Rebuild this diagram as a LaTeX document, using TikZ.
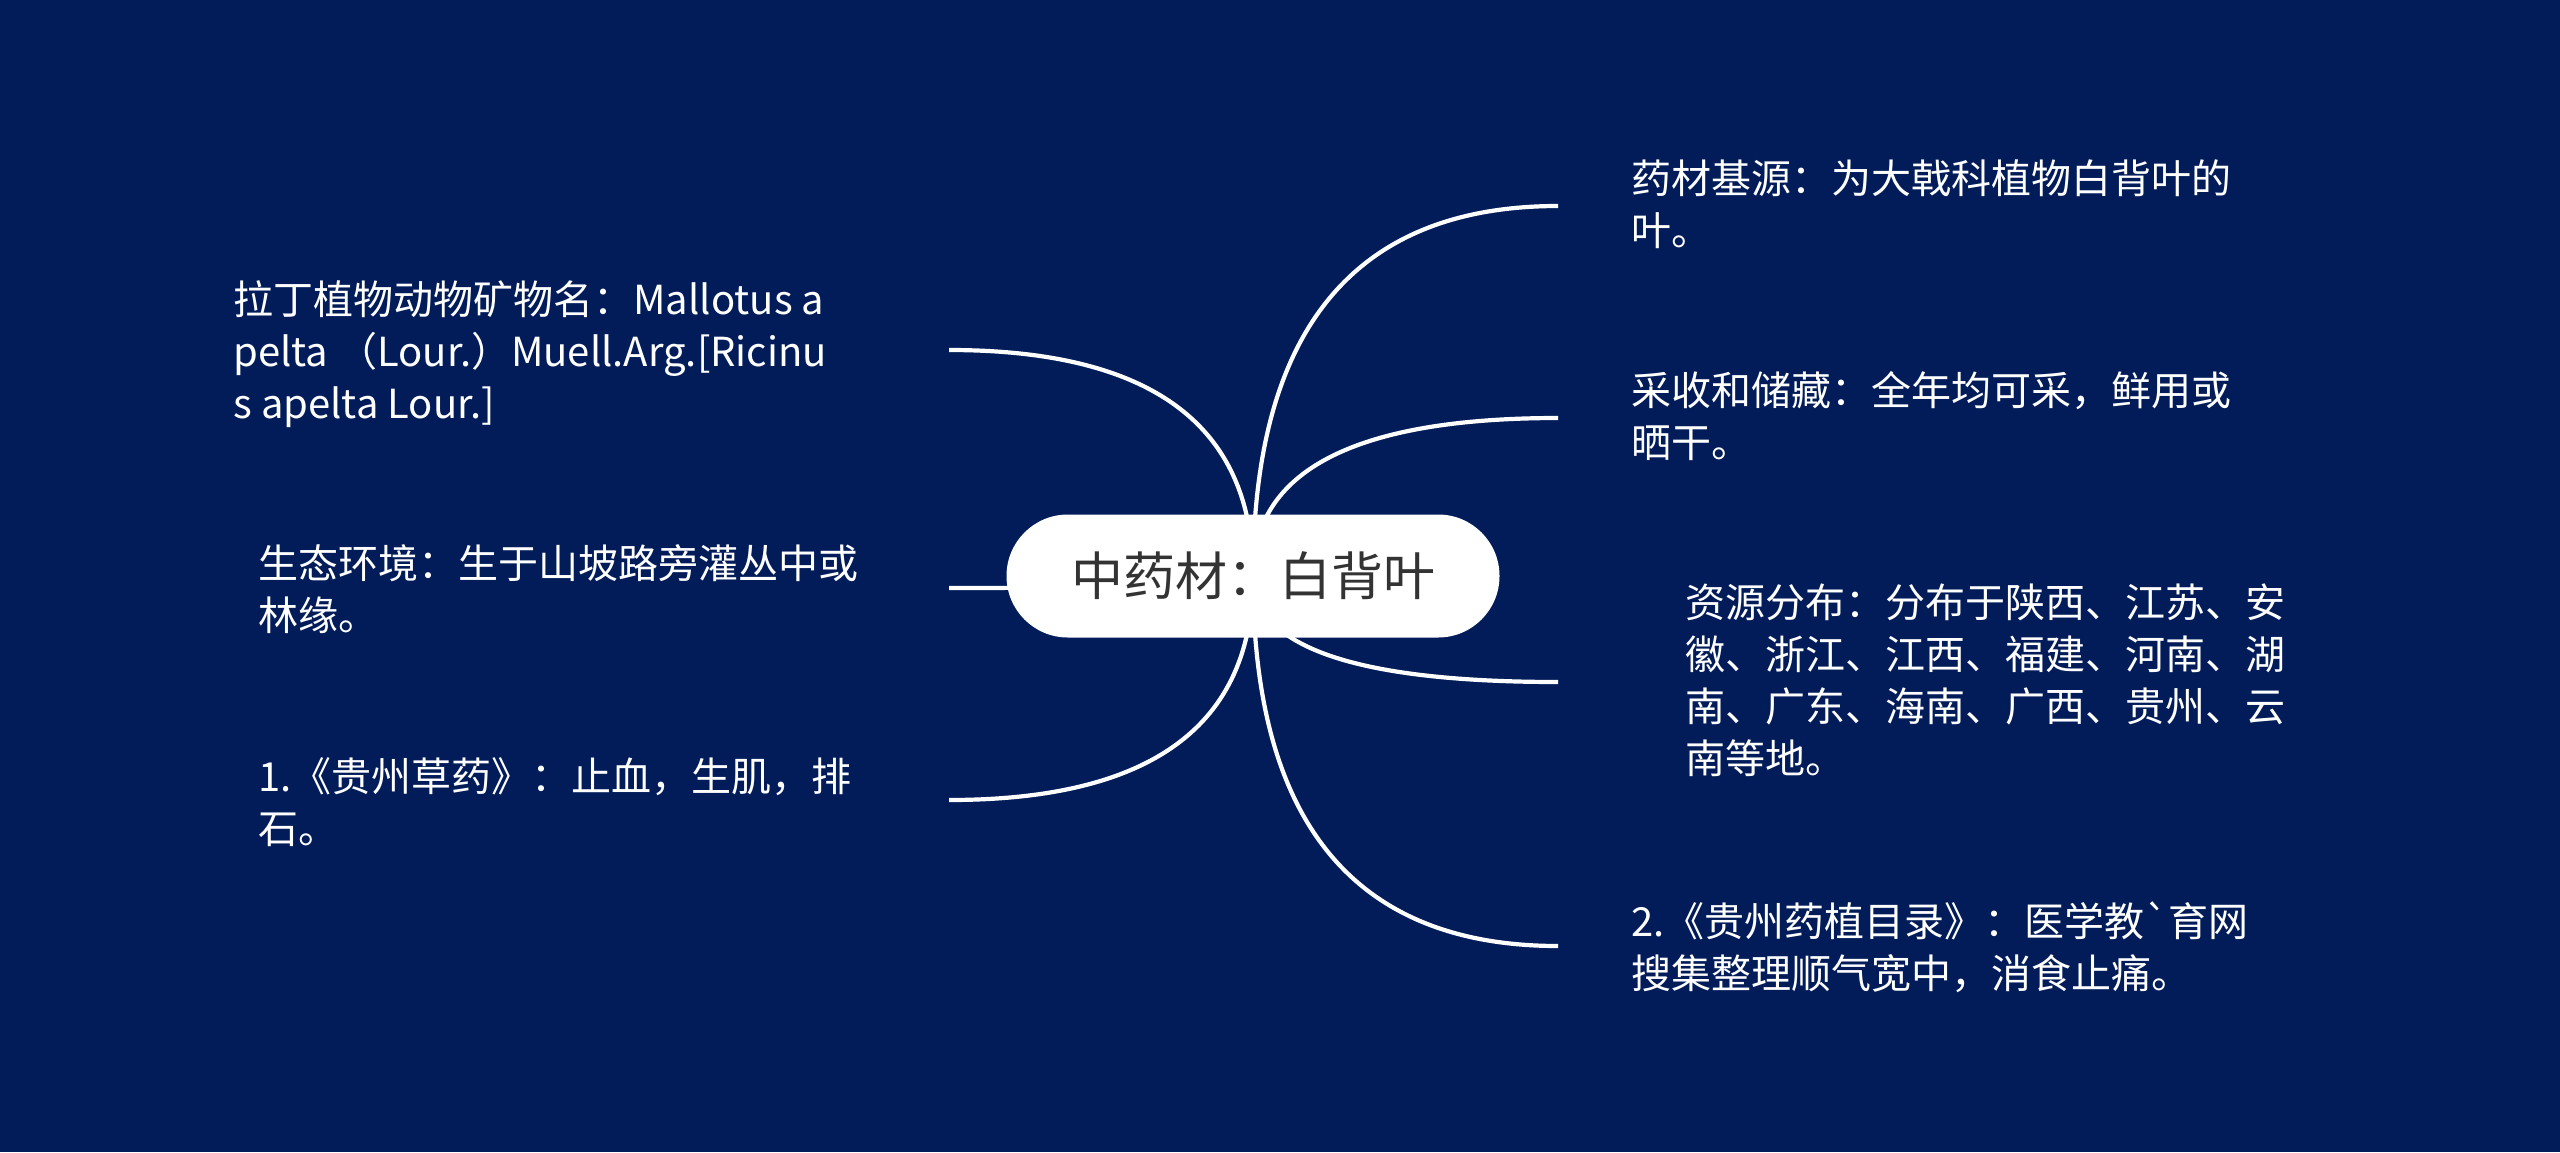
\documentclass[tikz,border=0pt]{standalone}
\usepackage{fontspec}
\newfontfamily\cjk{Noto Sans CJK SC}
\usetikzlibrary{calc,backgrounds}
\definecolor{bgnavy}{RGB}{2,28,90}
\definecolor{roottext}{RGB}{51,51,51}
\begin{document}
\begin{tikzpicture}[x=0.5pt,y=-0.5pt,
  conn/.style={draw=white,line width=2.1pt},
  leaf/.style={font=\cjk\fontsize{20}{26}\selectfont, text=white, align=left, inner sep=0pt, anchor=north west},
  rootnode/.style={rectangle, rounded corners=30.7pt, fill=white, minimum width=246.5pt, minimum height=61.5pt, inner sep=0pt, font=\cjk\fontsize{26}{32}\selectfont, text=roottext}]
\useasboundingbox (0,0) rectangle (2560,1152);
\node[rootnode] (root) at (1253,576) {中药材：白背叶};
% right branches
\node[leaf] (r1) at (1631,157) {\strut 药材基源：为大戟科植物白背叶的\\叶。};
\node[leaf] (r2) at (1631,369) {\strut 采收和储藏：全年均可采，鲜用或\\晒干。};
\node[leaf] (r3) at (1685,581) {\strut 资源分布：分布于陕西、江苏、安\\徽、浙江、江西、福建、河南、湖\\南、广东、海南、广西、贵州、云\\南等地。};
\node[leaf] (r4) at (1631,900) {\strut 2.《贵州药植目录》：医学教`育网\\搜集整理顺气宽中，消食止痛。};
% left branches
\node[leaf] (l1) at (233,278) {\strut 拉丁植物动物矿物名：Mallotus a\\pelta （Lour.）Muell.Arg.[Ricinu\\s apelta Lour.]};
\node[leaf] (l2) at (258,542) {\strut 生态环境：生于山坡路旁灌丛中或\\林缘。};
\node[leaf] (l3) at (258,755) {\strut 1.《贵州草药》：止血，生肌，排\\石。};
% connector ends
\coordinate (r1e) at (1558,206);
\coordinate (r2e) at (1558,418);
\coordinate (r3e) at (1558,682);
\coordinate (r4e) at (1558,946);
\coordinate (l1e) at (949,350);
\coordinate (l2e) at (949,588);
\coordinate (l3e) at (949,800);
\begin{pgfonlayer}{background}
\fill[bgnavy] (0,0) rectangle (2560,1152);
\foreach \e in {r1e,r2e,r3e,r4e,l1e,l2e,l3e}{
  \draw[conn] (root.center) .. controls ($(root.center)!2/3!(root.center |- \e)$) and ($(\e)!2/3!(root.center |- \e)$) .. (\e);
}
\end{pgfonlayer}
\end{tikzpicture}
\end{document}
